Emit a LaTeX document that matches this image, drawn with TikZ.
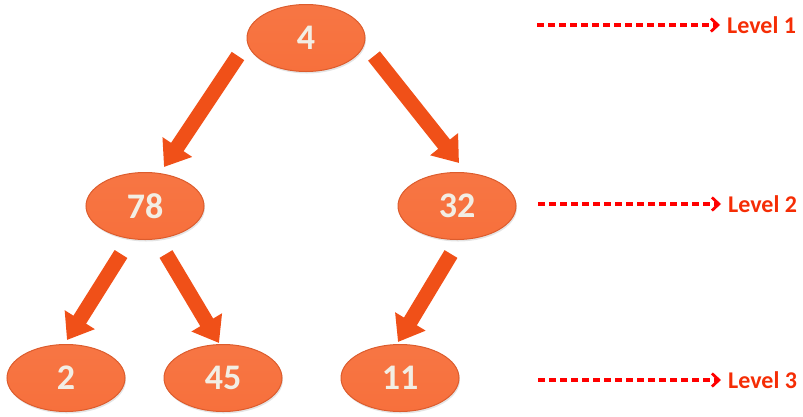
\documentclass[tikz,border=0pt]{standalone}
\usepackage{fontspec}
\setmainfont{Carlito}
\usetikzlibrary{arrows.meta,shadows,shapes.geometric}
\definecolor{nodefill}{RGB}{247,112,60}
\definecolor{nodeedge}{RGB}{220,92,45}
\definecolor{numcol}{RGB}{242,238,228}
\definecolor{arrowfill}{RGB}{240,80,24}
\definecolor{lvlcol}{RGB}{245,45,5}
\tikzset{
  treenode/.style={ellipse, draw=nodeedge, line width=1pt,
    top color=nodefill!96!white, bottom color=nodefill,
    minimum width=118pt, minimum height=67pt, inner sep=0pt,
    font=\fontsize{36}{36}\selectfont\bfseries, text=numcol,
    drop shadow={shadow xshift=1pt, shadow yshift=-2pt, fill=black!30, opacity=0.35}},
  blockarrow/.style={draw=arrowfill, line width=15pt,
    -{Triangle[length=24pt, width=34pt]}},
  lvlarrow/.style={draw=red, line width=3.4pt, dash pattern=on 7pt off 4pt,
    -{Straight Barb[length=7pt, width=13pt, line width=2.8pt]}},
  lvltext/.style={font=\fontsize{24}{24}\selectfont\bfseries, text=lvlcol, anchor=west, inner sep=0pt}
}
\begin{document}
\begin{tikzpicture}[x=1pt,y=-1pt]
\useasboundingbox (0,0) rectangle (803,416);
\node[treenode] (n4) at (306,38) {4};
\node[treenode] (n78) at (145,206) {78};
\node[treenode] (n32) at (457,206) {32};
\node[treenode] (n2) at (66,378) {2};
\node[treenode] (n45) at (223,378) {45};
\node[treenode] (n11) at (400,378) {11};
\coordinate (a1s) at (238,56); \coordinate (a1e) at (164,167);
\coordinate (a2s) at (374,56); \coordinate (a2e) at (459,163);
\coordinate (a3s) at (121,254); \coordinate (a3e) at (67,340);
\coordinate (a4s) at (166,254); \coordinate (a4e) at (219,343);
\coordinate (a5s) at (451,254); \coordinate (a5e) at (398,342);
\draw[blockarrow] (a1s) -- (a1e);
\draw[blockarrow] (a2s) -- (a2e);
\draw[blockarrow] (a3s) -- (a3e);
\draw[blockarrow] (a4s) -- (a4e);
\draw[blockarrow] (a5s) -- (a5e);
\node[lvltext] (l1) at (727,25) {Level 1};
\node[lvltext] (l2) at (728,204) {Level 2};
\node[lvltext] (l3) at (728,380) {Level 3};
\coordinate (d1) at (537,25); \coordinate (d2) at (538,204); \coordinate (d3) at (538,380);
\draw[lvlarrow] (d1) -- ([xshift=-7pt]l1.west);
\draw[lvlarrow] (d2) -- ([xshift=-7pt]l2.west);
\draw[lvlarrow] (d3) -- ([xshift=-7pt]l3.west);
\end{tikzpicture}
\end{document}
